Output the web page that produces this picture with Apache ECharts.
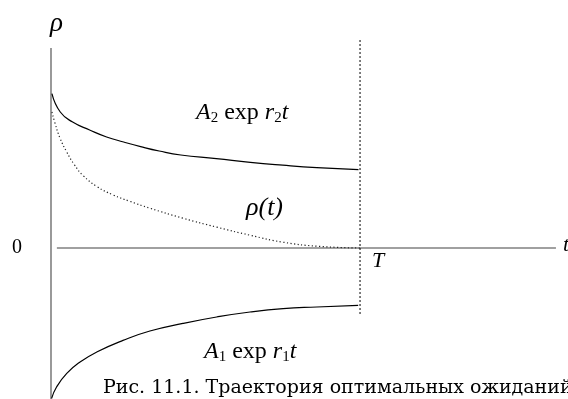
<!DOCTYPE html>
<html>
<head>
<meta charset="utf-8">
<script src="https://cdn.jsdelivr.net/npm/echarts@6/dist/echarts.min.js"></script>
<style>
  html, body { margin: 0; padding: 0; background: #fff; }
  #chart { width: 568px; height: 399px; }
</style>
</head>
<body>
<div id="chart"></div>
<script>
// верхняя граница A2 exp r2t
const tUpper = [0.03, 0.3, 0.7, 1.25, 1.8, 2.35, 2.9, 3.5, 4.2, 5.35, 6.45, 7.5, 8.6, 9.95];
const rhoUpper = [7.72, 6.8, 6.3, 5.9, 5.55, 5.3, 5.07, 4.85, 4.65, 4.47, 4.28, 4.14, 4.02, 3.92];

// траектория rho(t), пунктир
const tPath = [0.03, 0.13, 0.29, 0.51, 0.75, 1.04, 1.48, 2.0, 2.56, 3.2, 4.27, 5.37, 6.44, 7.51, 8.61, 10];
const rhoPath = [6.8, 6.24, 5.5, 4.8, 4.18, 3.62, 3.08, 2.66, 2.33, 1.99, 1.49, 1.04, 0.64, 0.29, 0.09, 0];

// нижняя граница A1 exp r1t
const tLower = [0.02, 0.18, 0.51, 0.94, 1.48, 2.33, 3.2, 4.27, 5.36, 6.44, 7.51, 8.6, 9.94];
const rhoLower = [-7.52, -6.95, -6.27, -5.7, -5.2, -4.62, -4.15, -3.77, -3.45, -3.2, -3.03, -2.95, -2.87];

// оси и момент T
const T = 10;
const rhoAxisTop = 10;
const rhoAxisBottom = -7.55;
const tAxisStart = 0.19;
const tAxisEnd = 16.34;
const tLineTop = 10.4;
const tLineBottom = -3.35;

const pairs = (xs, ys) => xs.map((x, i) => [x, ys[i]]);

const serif = '"Liberation Serif", "Times New Roman", serif';
const formulaRich = {
  i: { fontFamily: serif, fontStyle: 'italic', fontSize: 24, lineHeight: 28, fill: '#000' },
  r: { fontFamily: serif, fontSize: 24, lineHeight: 28, fill: '#000' },
  s: { fontFamily: serif, fontSize: 15, lineHeight: 28, padding: [11, 0, 0, 0], fill: '#000' }
};

let chart = echarts.init(document.getElementById('chart'), null, { renderer: 'canvas' });

const lineBase = { type: 'line', showSymbol: false, silent: true, animation: false };

chart.setOption({
  animation: false,
  grid: { left: 51, right: 0, top: 28, bottom: 0 },
  xAxis: { type: 'value', min: 0, max: 16.73, show: false },
  yAxis: { type: 'value', min: rhoAxisBottom, max: 11, show: false },
  series: [
    {
      ...lineBase,
      data: [[0, rhoAxisTop], [0, rhoAxisBottom]],
      lineStyle: { color: '#808080', width: 1.6 }
    },
    {
      ...lineBase,
      data: [[tAxisStart, 0], [tAxisEnd, 0]],
      lineStyle: { color: '#808080', width: 1.6 }
    },
    {
      ...lineBase,
      data: [[T, tLineTop], [T, tLineBottom]],
      lineStyle: { color: '#000', width: 1, type: [2, 2] }
    },
    {
      ...lineBase,
      data: pairs(tUpper, rhoUpper),
      smooth: 0.5,
      lineStyle: { color: '#000', width: 1.2 }
    },
    {
      ...lineBase,
      data: pairs(tPath, rhoPath),
      smooth: 0.5,
      lineStyle: { color: '#222', width: 1.2, type: [1.2, 2.4] }
    },
    {
      ...lineBase,
      data: pairs(tLower, rhoLower),
      smooth: 0.5,
      lineStyle: { color: '#000', width: 1.2 }
    }
  ],
  graphic: [
    { type: 'text', left: 50, top: 10, style: { text: 'ρ', font: 'italic 27px ' + serif, fill: '#000' } },
    { type: 'text', left: 12, top: 238, style: { text: '0', font: '20px ' + serif, fill: '#000' } },
    { type: 'text', left: 372, top: 250, style: { text: 'T', font: 'italic 22px ' + serif, fill: '#000' } },
    { type: 'text', left: 563, top: 234, style: { text: 't', font: 'italic 22px ' + serif, fill: '#000' } },
    { type: 'text', left: 246, top: 195, style: { text: 'ρ(t)', font: 'italic 26px ' + serif, fill: '#000' } },
    {
      type: 'text', left: 196, top: 100,
      style: { text: '{i|A}{s|2}{r| exp }{i|r}{s|2}{i|t}', rich: formulaRich }
    },
    {
      type: 'text', left: 204, top: 339,
      style: { text: '{i|A}{s|1}{r| exp }{i|r}{s|1}{i|t}', rich: formulaRich }
    },
    {
      type: 'text', left: 103, top: 379,
      style: { text: 'Рис. 11.1. Траектория оптимальных ожиданий', font: '19px "DejaVu Serif", serif', fill: '#000' }
    }
  ]
});
</script>
</body>
</html>
